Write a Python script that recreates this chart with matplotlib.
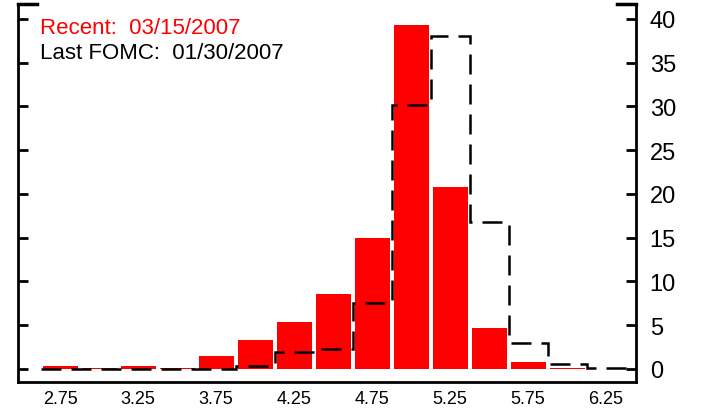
import matplotlib
matplotlib.use("Agg")
import matplotlib.pyplot as plt
import numpy as np
plt.rcParams['font.family'] = ['Liberation Sans', 'DejaVu Sans']

centers = [2.75,3.0,3.25,3.5,3.75,4.0,4.25,4.5,4.75,5.0,5.25,5.5,5.75,6.0,6.25]
recent = [0.3,0.1,0.3,0.1,1.5,3.3,5.4,8.6,14.9,39.3,20.8,4.7,0.8,0.1,0.0]
fomc = [0.0,0.0,0.0,0.0,0.0,0.3,1.9,2.3,7.5,30.2,38.0,16.8,2.9,0.5,0.1]
xticks = [2.75,3.25,3.75,4.25,4.75,5.25,5.75,6.25]

fig = plt.figure(figsize=(7.06,4.14), dpi=100)
ax = fig.add_axes([0.0255,0.075,0.875,0.913])
ax.bar(centers, recent, width=0.225, color='red', zorder=2)
c = np.array(centers)
edges = np.concatenate([c-0.125, [c[-1]+0.125]])
ax.stairs(fomc, edges, color='black', linestyle=(0,(8,4)), linewidth=1.8, zorder=3)
ax.set_xlim(2.48, 6.44)
ax.set_ylim(-1.5, 41.7)
ax.set_xticks(xticks)
ax.set_xticklabels([f"{t:.2f}" for t in xticks], fontsize=13)
ax.set_yticks(range(0,41,5))
ax.yaxis.tick_right()
ax.tick_params(axis='y', which='both', left=True, right=True, direction='in', length=7, labelsize=17, width=2, pad=10)
ax.tick_params(axis='x', length=0, pad=6)
for s in ax.spines.values():
    s.set_linewidth(2)
ax.spines['top'].set_visible(False)
for x0, x1 in [(2.48, 2.48+0.12), (6.44-0.12, 6.44)]:
    ax.plot([x0, x1], [41.7, 41.7], color='black', lw=2.5, clip_on=False, solid_capstyle='projecting')
ax.text(0.035, 0.965, "Recent:  03/15/2007", color='red', fontsize=16, transform=ax.transAxes, va='top')
ax.text(0.035, 0.9, "Last FOMC:  01/30/2007", color='black', fontsize=16, transform=ax.transAxes, va='top')
fig.savefig("out.png")
